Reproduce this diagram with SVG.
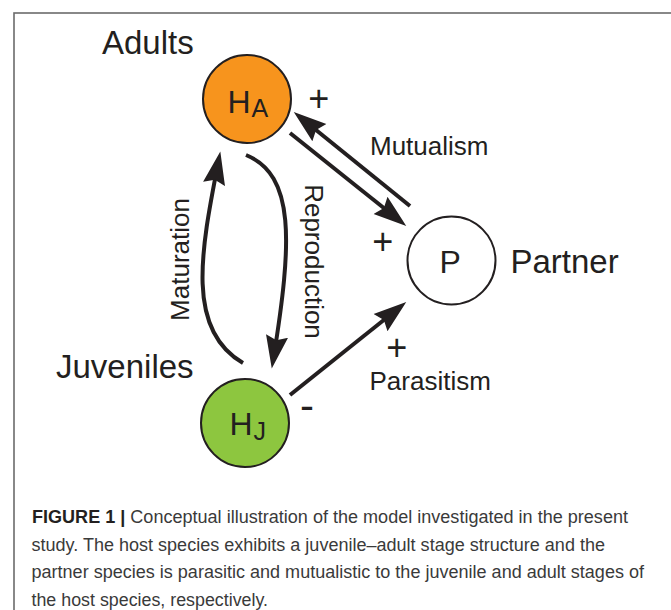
<svg xmlns="http://www.w3.org/2000/svg" width="671" height="610" viewBox="0 0 671 610">
<style>
  .lbl { font-family: "Liberation Sans", Arial, sans-serif; fill: #231F20; }
  .big { font-size: 33px; }
  .mid { font-size: 26px; }
  .sym { font-size: 32px; }
  .pls { font-size: 36px; }
  .node { stroke: #231F20; stroke-width: 2; }
  .conn { fill: none; stroke: #231F20; stroke-width: 4; marker-end: url(#ah); }
  .cap { font-family: "Liberation Sans", Arial, sans-serif; font-size: 17.5px; fill: #3a3a3a; }
  .capb { font-weight: bold; fill: #231F20; }
</style>
<defs>
  <marker id="ah" markerUnits="userSpaceOnUse" markerWidth="34" markerHeight="24" viewBox="0 0 32 22" refX="22" refY="11" orient="auto">
    <path d="M0,0.5 L31,11 L0,21.5 L4,11 Z" fill="#231F20"/>
  </marker>
</defs>
<rect x="14" y="13" width="720" height="700" fill="none" stroke="#6b6b6b" stroke-width="1.6"/>

<g id="connectors">
  <path class="conn" d="M410,206 L301.2,118"/>
  <path class="conn" d="M290,133 L398.8,220"/>
  <path class="conn" d="M290,395 L398.8,308"/>
  <path class="conn" d="M243,363 C185,330 201.4,249 218.5,161"/>
  <path class="conn" d="M246,155 C295,175 292.5,240.7 273.3,359.1"/>
</g>

<g id="node-HA">
  <circle class="node" cx="247" cy="99" r="44" fill="#F7941D"/>
  <text class="lbl sym" x="227.5" y="113">H<tspan font-size="25" dy="4" dx="1">A</tspan></text>
</g>
<g id="node-HJ">
  <circle class="node" cx="245" cy="423" r="44" fill="#8DC63F"/>
  <text class="lbl sym" x="229.5" y="435">H<tspan font-size="25" dy="5" dx="1">J</tspan></text>
</g>
<g id="node-P">
  <circle class="node" cx="451.5" cy="260.5" r="44" fill="#FFFFFF"/>
  <text class="lbl sym" x="439.5" y="273">P</text>
</g>

<g id="labels">
  <text class="lbl big" x="102" y="54">Adults</text>
  <text class="lbl big" x="56" y="378">Juveniles</text>
  <text class="lbl big" x="510.5" y="273">Partner</text>
  <text class="lbl mid" x="370" y="155">Mutualism</text>
  <text class="lbl mid" x="369.5" y="390">Parasitism</text>
  <text class="lbl mid" text-anchor="middle" transform="translate(304.5,261.5) rotate(90)">Reproduction</text>
  <text class="lbl mid" text-anchor="middle" transform="translate(188.6,259.5) rotate(-90)">Maturation</text>
  <text class="lbl pls" x="308.3" y="110.6">+</text>
  <text class="lbl pls" x="372.3" y="253.6">+</text>
  <text class="lbl pls" x="386.3" y="359.6">+</text>
  <text class="lbl" font-size="42" x="300" y="419.5">-</text>
</g>

<g id="caption">
  <text class="cap" x="32" y="523" textLength="596" lengthAdjust="spacingAndGlyphs"><tspan class="capb">FIGURE 1 |</tspan> Conceptual illustration of the model investigated in the present</text>
  <text class="cap" x="31.5" y="550.5" textLength="573.5" lengthAdjust="spacingAndGlyphs">study. The host species exhibits a juvenile–adult stage structure and the</text>
  <text class="cap" x="31.5" y="578" textLength="612.5" lengthAdjust="spacingAndGlyphs">partner species is parasitic and mutualistic to the juvenile and adult stages of</text>
  <text class="cap" x="31.5" y="605.5" textLength="236.5" lengthAdjust="spacingAndGlyphs">the host species, respectively.</text>
</g>
</svg>
